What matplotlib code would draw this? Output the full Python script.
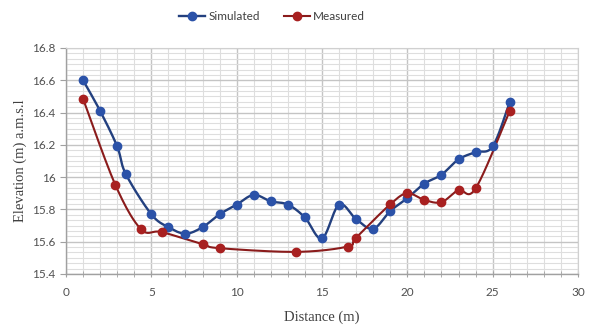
import numpy as np
import matplotlib
matplotlib.use("Agg")
import matplotlib.pyplot as plt
from matplotlib.ticker import MultipleLocator

# Cross-section profile data
sim_x = [1, 2, 3, 3.5, 5, 6, 7, 8, 9, 10, 11, 12, 13, 14, 15, 16, 17, 18, 19, 20, 21, 22, 23, 24, 25, 26]
sim_y = [16.60, 16.41, 16.19, 16.02, 15.77, 15.69, 15.65, 15.69, 15.77, 15.83, 15.89, 15.85, 15.83, 15.75,
         15.62, 15.83, 15.74, 15.68, 15.79, 15.87, 15.96, 16.015, 16.11, 16.155, 16.19, 16.465]
meas_x = [1, 2.9, 4.4, 5.6, 8, 9, 13.5, 16.5, 17, 19, 20, 21, 22, 23, 24, 26]
meas_y = [16.485, 15.95, 15.677, 15.66, 15.585, 15.56, 15.537, 15.57, 15.625, 15.832, 15.9, 15.858, 15.845,
          15.92, 15.93, 16.41]

x_ticks = [0, 5, 10, 15, 20, 25, 30]
y_ticks = [15.4, 15.6, 15.8, 16.0, 16.2, 16.4, 16.6, 16.8]
y_tick_labels = ["15.4", "15.6", "15.8", "16", "16.2", "16.4", "16.6", "16.8"]


def smooth(xs, ys, n=20):
    """Bezier-style smoothing through every point (Catmull-Rom segments)."""
    p = np.column_stack([xs, ys]).astype(float)
    p = np.vstack([p[0], p, p[-1]])
    out = []
    t = np.linspace(0, 1, n, endpoint=False)[:, None]
    for i in range(1, len(p) - 2):
        p0, p1, p2, p3 = p[i - 1], p[i], p[i + 1], p[i + 2]
        seg = 0.5 * ((2 * p1) + (-p0 + p2) * t + (2 * p0 - 5 * p1 + 4 * p2 - p3) * t ** 2
                     + (-p0 + 3 * p1 - 3 * p2 + p3) * t ** 3)
        out.append(seg)
    out.append(p[-2][None, :])
    out = np.vstack(out)
    return out[:, 0], out[:, 1]


fig = plt.figure(figsize=(5.92, 3.26), dpi=100)
ax = fig.add_axes([66 / 592, 1 - 274 / 326, (578 - 66) / 592, (274 - 48) / 326])

blue_line, blue_mark = "#23407f", "#2b52a8"
red_line, red_mark = "#8a1b1b", "#a82020"
ms = 6.0

sx, sy = smooth(sim_x, sim_y)
mx, my = smooth(meas_x, meas_y)
ax.plot(sx, sy, color=blue_line, lw=1.7, zorder=3)
ax.plot(sim_x, sim_y, ls="none", marker="o", ms=ms, color=blue_mark, zorder=4)
ax.plot(mx, my, color=red_line, lw=1.5, zorder=3)
ax.plot(meas_x, meas_y, ls="none", marker="o", ms=ms, color=red_mark, zorder=4)

ax.set_xlim(0, 30)
ax.set_ylim(15.4, 16.8)
ax.set_xticks(x_ticks)
ax.set_yticks(y_ticks)
ax.set_yticklabels(y_tick_labels)
ax.xaxis.set_minor_locator(MultipleLocator(1))
ax.yaxis.set_minor_locator(MultipleLocator(0.2 / 6))

ax.grid(which="major", color="#c4c4c4", lw=1.0, zorder=0)
ax.grid(which="minor", color="#dedede", lw=0.8, zorder=0)
ax.set_axisbelow(True)

for side in ["top", "right"]:
    ax.spines[side].set_color("#d0d0d0")
    ax.spines[side].set_linewidth(0.8)
for side in ["left", "bottom"]:
    ax.spines[side].set_color("#a0a0a0")
    ax.spines[side].set_linewidth(1.0)

ax.tick_params(axis="x", which="both", direction="inout", length=5, color="#a0a0a0",
               labelsize=8.5, labelcolor="#505050", pad=7)
ax.tick_params(axis="x", which="minor", length=4)
ax.tick_params(axis="y", which="major", direction="out", length=4, color="#a0a0a0",
               labelsize=8.5, labelcolor="#505050")
ax.tick_params(axis="y", which="minor", length=0)
for lab in ax.get_xticklabels() + ax.get_yticklabels():
    lab.set_family("Lato")

ax.set_xlabel("Distance (m)", family="Liberation Serif", fontsize=10.5, color="#404040", labelpad=9)
ax.set_ylabel("Elevation (m) a.m.s.l", family="Liberation Serif", fontsize=10.5, color="#404040", labelpad=4)

handles = [
    plt.Line2D([], [], color=blue_line, lw=1.7, marker="o", ms=ms, mfc=blue_mark, mec=blue_mark),
    plt.Line2D([], [], color=red_line, lw=1.5, marker="o", ms=ms, mfc=red_mark, mec=red_mark),
]
fig.legend(handles, ["Simulated", "Measured"], loc="center", bbox_to_anchor=(272 / 592, 1 - 17 / 326),
           ncol=2, frameon=False, prop={"family": "Lato", "size": 8.5}, handlelength=2.2,
           handletextpad=0.3, columnspacing=2.0, labelcolor="#404040")

fig.savefig("out.png", dpi=100)
